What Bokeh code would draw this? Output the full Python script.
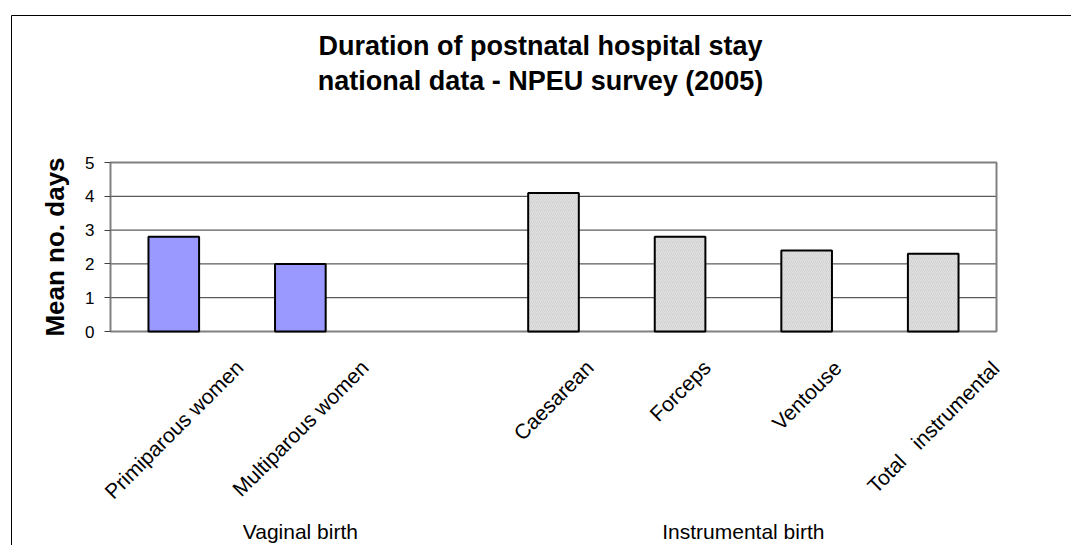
import math
from bokeh.plotting import figure
from bokeh.models import Range1d, ColumnDataSource, FixedTicker
from bokeh.core.properties import value
from bokeh.embed import file_html
from bokeh.resources import INLINE

# ---------------- data ----------------
title_lines = ["Duration of postnatal hospital stay", "national data - NPEU survey (2005)"]
y_label = "Mean no. days"
groups = ["Vaginal birth", "Instrumental birth"]
vaginal_cats = ["Primiparous women", "Multiparous women"]
vaginal_vals = [2.8, 2.0]
instr_cats = ["Caesarean", "Forceps", "Ventouse", "Total   instrumental"]
instr_vals = [4.1, 2.8, 2.4, 2.3]
y_ticks = [0, 1, 2, 3, 4, 5]

# ---------------- layout (canvas pixels) ----------------
FONT = "Liberation Sans"
CW, CH = 1071, 545                    # canvas size
PL, PT, PW, PH = 110, 162, 886, 169   # plot area inside canvas
Y_MAX = y_ticks[-1]
BLANK = 1                             # empty slot between the two groups
n_slots = len(vaginal_cats) + BLANK + len(instr_cats)
S = PW / n_slots                      # px per category slot
ppu = PH / Y_MAX                      # px per y unit


def px_x(px):
    return (px - PL) / S


def px_y(py):
    return Y_MAX - (py - PT) / ppu


# Arial / Liberation Sans advance widths (per 1000 em)
ARIAL = {' ': 278, 'C': 722, 'F': 611, 'M': 833, 'P': 667, 'T': 611, 'V': 667,
         'a': 556, 'c': 500, 'e': 556, 'i': 222, 'l': 222, 'm': 833, 'n': 556,
         'o': 556, 'p': 556, 'r': 333, 's': 500, 't': 278, 'u': 556, 'w': 722}


def text_w(s, fs):
    return sum(ARIAL.get(ch, 556) for ch in s) * fs / 1000.0


# category slot positions
xv = [i + 0.5 for i in range(len(vaginal_cats))]
first_i = len(vaginal_cats) + BLANK
xi = [first_i + k + 0.5 for k in range(len(instr_cats))]
group_x = [(len(vaginal_cats) + BLANK) / 2.0, first_i + len(instr_cats) / 2.0]

p = figure(x_range=Range1d(px_x(0), px_x(CW)), y_range=Range1d(px_y(CH), px_y(0)),
           width=CW, height=CH, min_border=0, title=None,
           output_backend="svg", toolbar_location=None)
p.background_fill_color = "white"
p.border_fill_color = "white"
p.outline_line_color = None
p.xaxis.visible = False
p.xgrid.visible = False
p.ygrid.visible = False

ya = p.yaxis[0]
ya.fixed_location = 0
ya.ticker = FixedTicker(ticks=y_ticks)
ya.axis_line_color = None
ya.major_tick_out = 6
ya.major_tick_in = 0
ya.major_tick_line_color = "#404040"
ya.major_tick_line_width = 1
ya.minor_tick_line_color = None
ya.major_label_text_font = FONT
ya.major_label_text_font_size = "17px"
ya.major_label_text_color = "black"
ya.major_label_standoff = 10

# outer chart border (top and left edges)
bx, by = px_x(11), px_y(15)
p.segment(x0=[bx, bx], y0=[px_y(CH), by], x1=[bx, px_x(CW)], y1=[by, by],
          line_color="black", line_width=1)

# horizontal gridlines
grid_y = y_ticks[1:-1]
p.segment(x0=[0] * len(grid_y), y0=grid_y, x1=[n_slots] * len(grid_y), y1=grid_y,
          line_color="#333333", line_width=1)

# plot-area border
p.quad(left=[0], right=[n_slots], bottom=[0], top=[Y_MAX], fill_color=None,
       line_color="#808080", line_width=2)

# ---------------- bars ----------------
src_v = ColumnDataSource(dict(x=xv, top=vaginal_vals))
src_i = ColumnDataSource(dict(x=xi, top=instr_vals))
p.vbar(x="x", top="top", width=0.4, source=src_v,
       fill_color="#9999FF", line_color="black", line_width=2)
p.vbar(x="x", top="top", width=0.4, source=src_i,
       fill_color="#e0e0e0", hatch_pattern="/", hatch_color="#c4c4c4",
       hatch_scale=4, hatch_weight=0.5, line_color="black", line_width=2)

# ---------------- rotated category labels ----------------
cat_fs = 21
top_gap = 24
lab_x, lab_y, lab_t = [], [], []
for xs, cats in ((xv, vaginal_cats), (xi, instr_cats)):
    for x, c in zip(xs, cats):
        w = text_w(c, cat_fs)
        h = 1.12 * cat_fs
        dist = top_gap + math.sqrt(0.5) * (w + h) / 2
        lab_x.append(x)
        lab_y.append(-dist / ppu)
        # keep runs of spaces visible in the SVG text
        lab_t.append(c.replace("  ", "\u00a0\u00a0"))
p.text(x=lab_x, y=lab_y, text=lab_t, angle=math.pi / 4,
       text_align="center", text_baseline="middle",
       text_font=value(FONT), text_font_size=f"{cat_fs}px", text_color="black")

# ---------------- group labels ----------------
p.text(x=group_x, y=[px_y(531)] * len(groups), text=groups,
       text_align="center", text_baseline="middle",
       text_font=value(FONT), text_font_size="21px", text_color="black")

# ---------------- y-axis title ----------------
p.text(x=[px_x(54)], y=[Y_MAX / 2], text=[y_label], angle=math.pi / 2,
       text_align="center", text_baseline="middle",
       text_font=value(FONT), text_font_size="26px", text_font_style="bold",
       text_color="black")

# ---------------- chart title ----------------
p.text(x=[px_x(540)] * 2, y=[px_y(45), px_y(80)], text=title_lines,
       text_align="center", text_baseline="middle",
       text_font=value(FONT), text_font_size="27px", text_font_style="bold",
       text_color="black")

open("out.html", "w").write(file_html(p, INLINE))
